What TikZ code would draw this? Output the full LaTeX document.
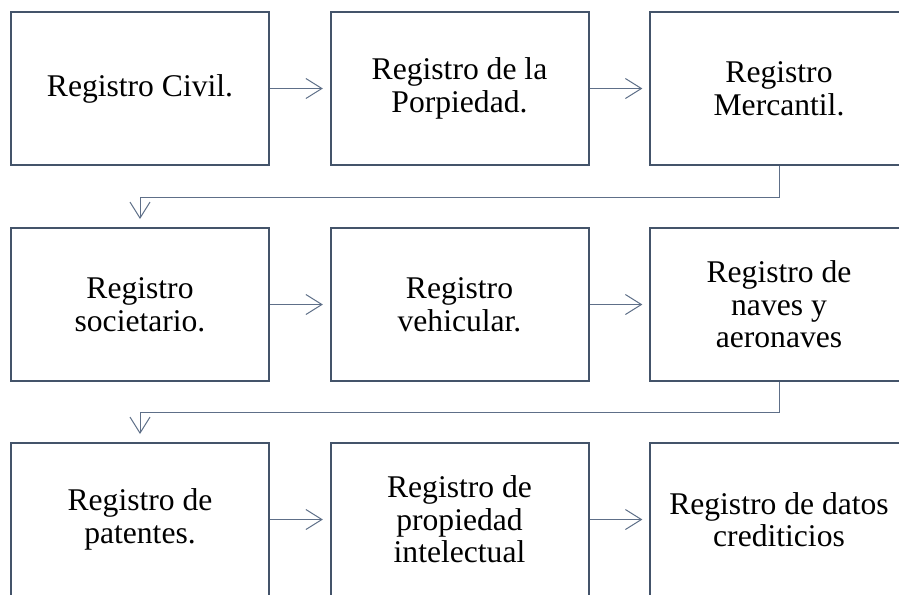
\documentclass[tikz,border=0pt]{standalone}
\usepackage{fontspec}
\setmainfont{Liberation Serif}
\usetikzlibrary{arrows.meta}
\definecolor{boxgray}{HTML}{44546A}
\definecolor{linkgray}{HTML}{5E6F88}
\tikzset{
	regbox/.style	= {rectangle, draw=boxgray, line width=1.5pt, fill=white,
			   minimum width=193.5pt, minimum height=114.75pt, inner sep=0pt,
			   align=center, font=\fontsize{23.7}{24.4}\selectfont},
	link/.style	= {draw=linkgray, line width=0.75pt, -{Straight Barb[length=12pt, width=15pt]}}
}
\begin{document}
\begin{tikzpicture}[x=0.75pt, y=-0.75pt]
	\useasboundingbox (0,0) rectangle (899,594);
	% primera fila
	\node (R1) at (140,  88.5)	[regbox]	{Registro Civil.};
	\node (R2) at (459.5,88.5)	[regbox]	{Registro de la\\Porpiedad.};
	\node (R3) at (779,  88.5)	[regbox]	{Registro\\Mercantil.};
	% segunda fila
	\node (R4) at (140,  304.5)	[regbox]	{Registro\\societario.};
	\node (R5) at (459.5,304.5)	[regbox]	{Registro\\vehicular.};
	\node (R6) at (779,  304.5)	[regbox]	{Registro de\\naves y\\aeronaves};
	% tercera fila
	\node (R7) at (140,  519.5)	[regbox]	{Registro de\\patentes.};
	\node (R8) at (459.5,519.5)	[regbox]	{Registro de\\propiedad\\intelectual};
	\node (R9) at (779,  519.5)	[regbox]	{Registro de datos\\crediticios};
	\draw[link, shorten >=5pt] (R1) -- (R2);
	\draw[link, shorten >=5pt] (R2) -- (R3);
	\draw[link, shorten >=6pt] (R3.south) -- ++(0,-23.25pt) -| (R4.north);
	\draw[link, shorten >=5pt] (R4) -- (R5);
	\draw[link, shorten >=5pt] (R5) -- (R6);
	\draw[link, shorten >=6pt] (R6.south) -- ++(0,-22.5pt) -| (R7.north);
	\draw[link, shorten >=5pt] (R7) -- (R8);
	\draw[link, shorten >=5pt] (R8) -- (R9);
\end{tikzpicture}
\end{document}
